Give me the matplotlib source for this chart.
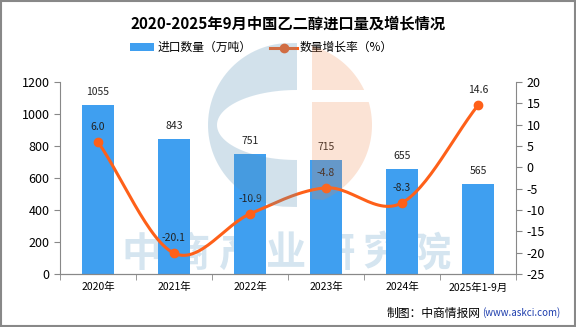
import numpy as np
import matplotlib.pyplot as plt
from matplotlib.patches import Rectangle, Polygon

plt.rcParams['font.family'] = ['Noto Sans CJK SC', 'DejaVu Sans']
plt.rcParams['axes.unicode_minus'] = False

# data
years = ['2020年', '2021年', '2022年', '2023年', '2024年', '2025年1-9月']
imports = [1055, 843, 751, 715, 655, 565]
growth = [6.0, -20.1, -10.9, -4.8, -8.3, 14.6]

bar_color = '#3f9ff0'
line_color = '#fe6019'

W, H = 576, 327


def px(x, y):
    # pixel (from top-left) -> figure fraction
    return (x / W, 1 - y / H)


def smooth(x, y, n=30):
    # catmull-rom style curve through the points
    x = np.asarray(x, float)
    y = np.asarray(y, float)
    px_ = np.concatenate([[2 * x[0] - x[1]], x, [2 * x[-1] - x[-2]]])
    py_ = np.concatenate([[2 * y[0] - y[1]], y, [2 * y[-1] - y[-2]]])
    xs, ys = [], []
    t = np.linspace(0, 1, n)
    for i in range(1, len(px_) - 2):
        for p, out in ((px_, xs), (py_, ys)):
            p0, p1, p2, p3 = p[i - 1], p[i], p[i + 1], p[i + 2]
            out.extend(0.5 * ((2 * p1) + (-p0 + p2) * t
                              + (2 * p0 - 5 * p1 + 4 * p2 - p3) * t ** 2
                              + (-p0 + 3 * p1 - 3 * p2 + p3) * t ** 3))
    return np.array(xs), np.array(ys)


fig = plt.figure(figsize=(5.76, 3.27), dpi=100)
ax = fig.add_axes([0.104, 0.162, 0.792, 0.587])
ax2 = ax.twinx()

x = np.arange(len(years))

# watermark text (behind the bars)
for i, ch in enumerate('中商产业研究院'):
    ax.text(*px(142 + i * 48, 254), ch, transform=fig.transFigure, fontsize=29,
            color='#d5e5f0', ha='center', va='center', fontweight='bold', zorder=0)

bars = ax.bar(x, imports, width=0.41, color=bar_color, zorder=2)
for xi, v in zip(x, imports):
    ax.text(xi, v + 50, str(v), ha='center', va='bottom', fontsize=7.5, color='#222222')

ax.set_xlim(-0.5, len(years) - 0.5)
ax.set_ylim(0, 1200)
ax.set_yticks(range(0, 1201, 200))
ax.set_xticks(x)
ax.set_xticklabels(years, fontsize=7.5)
ax.set_xticks(np.arange(-0.5, len(years)), minor=True)
ax.tick_params(axis='x', which='major', length=0, pad=6)
ax.tick_params(axis='x', which='minor', length=4, color='#888888')
ax.tick_params(axis='y', labelsize=9, color='#888888', length=4)

sx, sy = smooth(x, growth)
ax2.plot(sx, sy, color=line_color, lw=2.2, zorder=3)
ax2.plot(x, growth, 'o', color=line_color, ms=6, zorder=4)
for xi, v in zip(x, growth):
    ax2.text(xi, v + 2.4, f'{v:.1f}', ha='center', va='bottom', fontsize=7.5, color='#222222')
ax2.set_ylim(-25, 20)
ax2.set_yticks(range(-25, 21, 5))
ax2.tick_params(axis='y', labelsize=9, color='#888888', length=4)

for a in (ax, ax2):
    a.spines['top'].set_visible(False)
    for s in ('left', 'right', 'bottom'):
        a.spines[s].set_color('#888888')
ax.spines['right'].set_visible(False)
ax2.spines['left'].set_visible(False)

ax.set_zorder(ax2.get_zorder() - 1)
ax2.patch.set_visible(False)

# logo watermark, drawn over the chart with transparency
cx, cy, r = 290, 125, 82
a = np.linspace(np.pi / 2 + 0.09, 3 * np.pi / 2 - 0.09, 60)
outer = [(cx + r * np.cos(t), cy - r * np.sin(t)) for t in a]
e = np.linspace(-np.pi / 2, -3 * np.pi / 2, 60)
inner = [(297 + 80 * np.cos(t), 125 - 35 * np.sin(t)) for t in e]
blue = [(297, 43)] + outer + [(297, 207)] + inner
fig.patches.append(Polygon([px(*p) for p in blue], closed=True, transform=fig.transFigure,
                           facecolor='#5b93b8', alpha=0.27, edgecolor='none', zorder=5))
b = np.linspace(np.arcsin(-(207 - cy) / r), np.pi / 2 - 0.27, 60)
orange_top = [(312, 90)] + [(357, 90)] + [(cx + r * np.cos(t), cy - r * np.sin(t))
                                         for t in np.linspace(np.arcsin(35 / r), np.pi / 2 - 0.27, 30)] + [(312, 45)]
orange_bot = [(312, 102), (357, 102)] + [(cx + r * np.cos(t), cy - r * np.sin(t))
                                         for t in np.linspace(np.arcsin(23 / r), np.arcsin(-75 / r), 40)] + [(312, 199)]
for poly in (orange_top, orange_bot):
    fig.patches.append(Polygon([px(*p) for p in poly], closed=True, transform=fig.transFigure,
                               facecolor='#f08040', alpha=0.22, edgecolor='none', zorder=5))

# legend
fig.patches.append(Rectangle(px(130, 51), 24 / W, 8 / H, transform=fig.transFigure,
                             facecolor=bar_color, edgecolor='none'))
fig.text(*px(158, 47.5), '进口数量（万吨）', fontsize=8.5, va='center')
fig.lines.append(plt.Line2D([270 / W, 297 / W], [1 - 47.5 / H] * 2, transform=fig.transFigure,
                            color=line_color, lw=2.2))
fig.lines.append(plt.Line2D([283.5 / W], [1 - 47.5 / H], transform=fig.transFigure, marker='o',
                            color=line_color, ms=6))
fig.text(*px(300, 47.5), '数量增长率（%）', fontsize=8.5, va='center')

fig.text(0.5, 0.927, '2020-2025年9月中国乙二醇进口量及增长情况', ha='center', va='center',
         fontsize=11, fontweight='bold')

fig.text(*px(387, 313), '制图：中商情报网', fontsize=8.5, va='center')
fig.text(*px(482, 313), '(www.askci.com)', fontsize=7, va='center', color='#1f3fae')

fig.patches.append(Rectangle((0.001, 0.002), 0.997, 0.995, transform=fig.transFigure,
                             facecolor='none', edgecolor='#888888', lw=1.5, zorder=6))

fig.savefig('out.png', dpi=100)
